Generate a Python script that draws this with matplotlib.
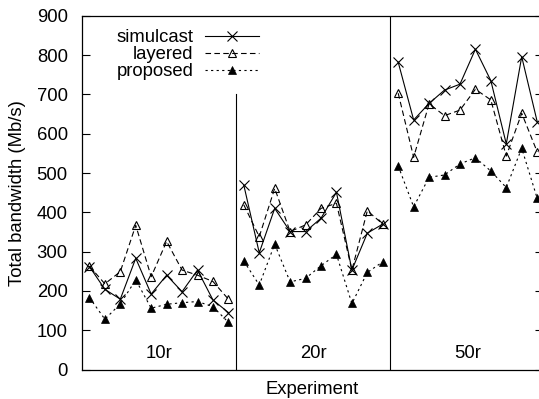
import numpy as np
import matplotlib
matplotlib.use('Agg')
import matplotlib.pyplot as plt

plt.rcParams['font.family'] = ['Liberation Sans', 'DejaVu Sans']

# Experiment groups (10 runs each)
groups = ['10r', '20r', '50r']
runs_per_group = 10

simulcast = [262, 204, 179, 283, 192, 240, 198, 253, 177, 145,
             469, 297, 410, 351, 351, 385, 451, 253, 347, 370,
             782, 635, 677, 711, 726, 815, 735, 574, 796, 631]
layered = [263, 218, 249, 367, 236, 326, 253, 240, 224, 179,
           419, 338, 461, 351, 368, 410, 423, 253, 404, 370,
           703, 540, 676, 646, 660, 713, 686, 543, 652, 554]
proposed = [183, 128, 167, 228, 156, 166, 170, 173, 160, 120,
            276, 215, 319, 223, 232, 264, 293, 168, 247, 274,
            518, 414, 489, 495, 523, 539, 505, 463, 563, 436]

x = np.arange(len(simulcast))

fig = plt.figure(figsize=(5.39, 3.99), dpi=100)
ax = fig.add_axes([0.1516, 0.0739, 0.855, 0.8865])

for start in range(0, len(x), runs_per_group):
    sl = slice(start, start + runs_per_group)
    ax.plot(x[sl], simulcast[sl], color='black', linestyle='-', linewidth=0.8,
            marker='x', markersize=7, markeredgewidth=0.8,
            label='simulcast' if start == 0 else None)
    ax.plot(x[sl], layered[sl], color='black', linestyle=(0, (5, 3)), linewidth=0.8,
            marker='^', markersize=5.5, markerfacecolor='none', markeredgewidth=0.8,
            label='layered' if start == 0 else None)
    ax.plot(x[sl], proposed[sl], color='black', linestyle=(0, (2, 3)), linewidth=0.8,
            marker='^', markersize=5.5, markerfacecolor='black', markeredgewidth=0.5,
            label='proposed' if start == 0 else None)

# group separators
ax.axvline(runs_per_group - 0.5, ymax=700 / 900, color='black', linewidth=0.8)
ax.axvline(2 * runs_per_group - 0.5, color='black', linewidth=0.8)

for i, g in enumerate(groups):
    ax.text(i * runs_per_group + (runs_per_group - 1) / 2, 40, g,
            ha='center', va='center', fontsize=13.3)

ax.set_xlim(-0.5, 29.35)
ax.set_ylim(0, 900)
ax.set_yticks(np.arange(0, 901, 100))
ax.set_xticks([])
ax.tick_params(axis='y', direction='in', length=6, width=0.8, labelsize=13.3,
               right=True, pad=10)
for s in ax.spines.values():
    s.set_linewidth(0.9)

ax.set_xlabel('Experiment', fontsize=13.3, labelpad=8)
ax.set_ylabel('Total bandwidth (Mb/s)', fontsize=13.3, labelpad=8)

ax.legend(loc='upper left', bbox_to_anchor=(0.075, 0.962), frameon=False,
          markerfirst=False, fontsize=13.3, handlelength=2.9, handletextpad=0.65,
          labelspacing=0.0, borderpad=0, borderaxespad=0)

fig.savefig('out.png', dpi=100)
